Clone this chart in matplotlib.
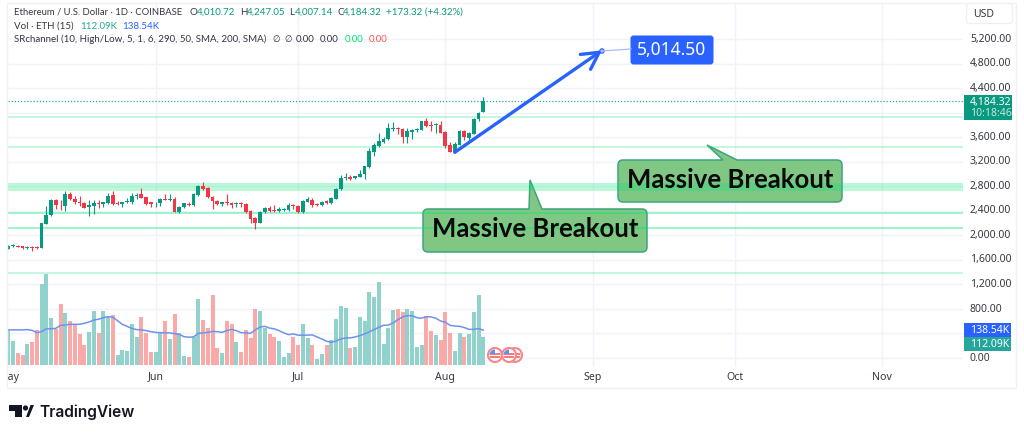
import numpy as np
import matplotlib
matplotlib.use('Agg')
from matplotlib import pyplot as plt
from matplotlib import transforms as mtrans
from matplotlib.path import Path
from matplotlib.patches import FancyBboxPatch, PathPatch, Rectangle, Circle, Polygon

W, H = 1024, 436
plt.rcParams['font.family'] = ['Noto Sans', 'DejaVu Sans']

# daily candles, May 1 to Aug 9
opens = [1782,1826,1831,1820,1793,1804,1809,1793,2184,2326,2570,2499,2483,2673,2597,2543,2521,2456,2483,2521,
         2505,2532,2657,2532,2510,2543,2543,2641,2668,2624,2537,2521,2521,2597,2581,2597,2380,2461,2516,2494,
         2662,2804,2771,2630,2565,2505,2537,2527,2505,2521,2516,2402,2288,2206,2385,2450,2412,2401,2418,2418,
         2494,2477,2385,2548,2581,2510,2494,2553,2521,2597,2749,2928,2955,2928,2955,2993,3113,3357,3461,3520,
         3564,3732,3749,3732,3602,3689,3710,3721,3863,3792,3792,3803,3683,3472,3352,3477,3705,3586,3656,3890,
         4010.72]
highs = [1842,1864,1842,1831,1820,1820,1831,2206,2478,2592,2592,2576,2722,2706,2641,2635,2537,2576,2576,2576,
         2548,2695,2722,2559,2548,2603,2684,2684,2777,2630,2548,2548,2614,2668,2679,2619,2478,2532,2548,2695,
         2820,2864,2782,2646,2576,2548,2668,2548,2548,2548,2527,2413,2304,2390,2466,2472,2494,2456,2439,2521,
         2516,2488,2575,2619,2602,2521,2559,2570,2619,2776,2983,3021,2977,2966,3064,3129,3428,3499,3673,3597,
         3825,3846,3770,3754,3743,3727,3749,3868,3917,3868,3825,3863,3694,3520,3515,3716,3716,3678,3912,4009,
         4247.05]
lows = [1771,1809,1804,1782,1777,1750,1771,1788,2179,2315,2434,2413,2402,2576,2505,2472,2440,2309,2342,2440,
        2456,2510,2499,2494,2456,2521,2510,2592,2603,2494,2461,2461,2472,2570,2565,2375,2369,2451,2483,2483,
        2646,2744,2614,2429,2489,2478,2494,2451,2461,2467,2369,2206,2097,2195,2369,2385,2380,2374,2401,2401,
        2423,2369,2369,2537,2467,2483,2483,2510,2510,2586,2738,2901,2901,2923,2945,2923,3102,3298,3444,3510,
        3553,3705,3651,3510,3499,3569,3689,3716,3770,3700,3672,3662,3423,3352,3336,3466,3553,3553,3645,3868,
        4007.14]
closes = [1820,1837,1815,1788,1809,1793,1799,2195,2331,2570,2494,2489,2673,2592,2537,2527,2451,2489,2521,2510,
          2543,2646,2510,2516,2543,2559,2646,2657,2614,2505,2505,2532,2597,2581,2597,2385,2461,2521,2494,2679,
          2809,2755,2624,2559,2505,2537,2521,2499,2521,2505,2380,2271,2206,2385,2439,2401,2401,2423,2434,2494,
          2472,2380,2559,2592,2494,2494,2548,2521,2613,2754,2934,2945,2917,2961,2999,3124,3368,3472,3537,3575,
          3743,3743,3727,3602,3694,3716,3727,3857,3787,3781,3808,3673,3461,3363,3482,3705,3607,3667,3901,3988,
          4184.32]

volumes = [138,95,47,41,86,92,138,323,361,186,142,244,205,174,163,124,79,133,215,129,
           215,192,199,41,59,57,165,113,190,128,53,53,129,174,104,201,126,38,34,112,
           262,178,149,278,68,50,174,162,91,53,138,108,221,215,149,124,113,97,32,47,
           113,80,163,109,80,25,45,80,100,183,234,227,67,72,190,176,288,269,329,84,
           146,219,223,209,223,215,74,80,196,136,120,101,212,126,57,126,113,124,209,278,
           112.09]
vol_colors = list('ggrrgrrggg' 'rrgrrrrggr' 'ggrgggggrr' 'rggrgrggrg' 'grrrrgrrgr'
                  'rrrggrrggg' 'rrggrggrgg' 'ggrggggggg' 'ggrrggggrr' 'grrrggrgggg')
vol_ma = [140,140,140,140,141,138,129,133,144,144,146,158,159,162,162,162,166,171,179,182,
          188,192,190,176,162,154,146,141,140,137,133,130,129,128,128,125,122,113,111,112,
          126,128,130,134,133,130,137,142,137,129,128,126,140,151,154,147,144,137,128,121,
          124,119,119,119,120,112,104,95,91,96,104,108,108,112,117,124,132,141,150,158,
          159,167,180,191,196,196,188,186,192,191,186,175,170,158,155,154,149,142,142,145,
          138.54]

sr_low = [3915, 3423, 2727, 2347, 2103, 1364]
sr_high = [3949, 3455, 2847, 2379, 2135, 1396]
sr_alpha = [0.24, 0.24, 0.27, 0.38, 0.38, 0.24]

price_ticks = [0, 400, 800, 1200, 1600, 2000, 2400, 2800, 3200, 3600, 4000, 4400, 4800, 5200]
price_labels = ['0.00', '800.00', '1,200.00', '1,600.00', '2,000.00', '2,400.00', '2,800.00',
                '3,200.00', '3,600.00', '4,400.00', '4,800.00', '5,200.00']
month_pos = [0, 31, 61, 92, 123, 153, 184]
month_names = ['May', 'Jun', 'Jul', 'Aug', 'Sep', 'Oct', 'Nov']

last_price = closes[-1]
target_price = 5014.50
arrow_start_price = 3353
arrow_start_day, arrow_end_day = 94, 125

GREEN, RED, BLUE = '#089981', '#f23645', '#2962ff'
TEXT = '#333842'
LEGEND_FONT = ['Lato', 'DejaVu Sans']

# everything that isn't data is laid out in image pixels
px = mtrans.Affine2D().scale(1, -1).translate(0, H)


def box(left, top, right, bottom):
    return [left / W, 1 - bottom / H, (right - left) / W, (bottom - top) / H]


fig = plt.figure(figsize=(W / 100, H / 100), dpi=100, facecolor='white')

# pane frame
fig.add_artist(Rectangle((7, 3), 1009, 385, transform=px, fc='none', ec='#f0f1f4', lw=1))

ax = fig.add_axes(box(8, 4, 963, 367))
px_per_unit = 0.06135
ax.set_ylim((358 - 367) / px_per_unit, (358 - 4) / px_per_unit)
px_per_day = 4.75
ax.set_xlim(-0.3 / px_per_day, 955 / px_per_day - 0.06)
for s in ax.spines.values():
    s.set_visible(False)
ax.set_yticks(price_ticks)
ax.set_xticks(month_pos[1:])
ax.tick_params(length=0, labelleft=False, labelbottom=False)
ax.grid(True, color='#f0f3fa', lw=1)
ax.set_axisbelow(True)

# support/resistance zones
for low, high, a in zip(sr_low, sr_high, sr_alpha):
    ax.axhspan(low, high, color='#00e676', alpha=a, lw=0, zorder=1.5)
ax.axhline(last_price, color='#2fae9c', lw=0.9, ls=(0, (1, 1.5)), zorder=1.6)

# candles
days = np.arange(len(closes))
for d, o, h, l, c in zip(days, opens, highs, lows, closes):
    col = GREEN if c >= o else RED
    ax.vlines(d, l, h, color=col, lw=0.8, zorder=3)
    ax.bar(d, abs(c - o), bottom=min(o, c), width=0.78, color=col, lw=0, zorder=3)

# arrow to the target
ax.annotate('', xy=(arrow_end_day, target_price), xytext=(arrow_start_day, arrow_start_price),
            arrowprops=dict(arrowstyle='->,head_length=12,head_width=6.5', color=BLUE, lw=2.4,
                            mutation_scale=1, shrinkA=0, shrinkB=0, capstyle='round'), zorder=5)

# volume overlay
ax_vol = fig.add_axes(box(8, 4, 963, 367), sharex=ax)
ax_vol.patch.set_visible(False)
ax_vol.axis('off')
vol_px = 3.95
ax_vol.set_ylim(-1.7 * vol_px, (365.3 - 4) * vol_px)
bar_cols = ['#92d2cc' if v == 'g' else '#f9a9a8' for v in vol_colors]
ax_vol.bar(days, volumes, width=0.84, color=bar_cols, lw=0)
ax_vol.plot(days, vol_ma, color='#6f92ef', lw=1.1)


def add_callout(left, top, right, bottom, tail):
    # rounded box with the tail cut into its top edge
    r = 5
    t1, tip, t2 = tail
    v = [(left + r, top), t1, tip, t2, (right - r, top), (right, top), (right, top + r),
         (right, bottom - r), (right, bottom), (right - r, bottom), (left + r, bottom),
         (left, bottom), (left, bottom - r), (left, top + r), (left, top), (left + r, top)]
    c = [Path.MOVETO, Path.LINETO, Path.LINETO, Path.LINETO, Path.LINETO, Path.CURVE3, Path.CURVE3,
         Path.LINETO, Path.CURVE3, Path.CURVE3, Path.LINETO, Path.CURVE3, Path.CURVE3, Path.LINETO,
         Path.CURVE3, Path.CURVE3]
    ax.add_patch(PathPatch(Path(v, c), transform=px, fc='#81c784', ec='#3aa57f', lw=1.1, zorder=1.2, clip_on=False))
    ax.text((left + right) / 2, (top + bottom) / 2 - 1.5, 'Massive Breakout', transform=px, ha='center', va='center',
            fontsize=18.5, color='#0a0a0a', family=LEGEND_FONT, fontweight='bold', zorder=6)


add_callout(618, 160, 842, 202, [(723, 160), (707, 145), (737, 160)])
add_callout(423, 209, 647, 252, [(529, 209), (530, 180), (542, 209)])

# target label and its thin connector
fig.add_artist(plt.Line2D([602, 631], [51, 49], transform=px, color='#a9bdf7', lw=0.9))
fig.add_artist(Circle((602, 51), 2.2, transform=px, fc='#a9bdf7', ec=BLUE, lw=0.8))
fig.add_artist(FancyBboxPatch((633, 38), 78, 24, boxstyle='round,pad=2.5,rounding_size=3', transform=px,
                              fc=BLUE, ec='none'))
fig.text(671.5, 49.5, '5,014.50', transform=px, ha='center', va='center', color='white', fontsize=12.5)


def put(x, y, s, color=TEXT, size=7.5, **kw):
    return fig.text(x, y, s, transform=px, color=color, fontsize=size, va='center', **kw)


def leg(x, y, s, color=TEXT, size=7.0):
    return put(x, y, s, color, size=size, family=LEGEND_FONT)


# legend lines
leg(14, 12, 'Ethereum / U.S. Dollar · 1D · COINBASE', size=6.85)
for x, s in zip([190, 240, 289, 337], 'OHLC'):
    leg(x, 12, s)
for x, s in zip([197, 247, 295, 343], ['4,010.72', '4,247.05', '4,007.14', '4,184.32']):
    leg(x, 12, s, GREEN)
leg(386, 12, '+173.32 (+4.32%)', GREEN)
leg(14, 26, 'Vol · ETH (15)')
leg(80, 26, '112.09K', '#22ab94')
leg(122, 26, '138.54K', BLUE)
leg(14, 39, 'SRchannel (10, High/Low, 5, 1, 6, 290, 50, SMA, 200, SMA)')
leg(272, 39, '∅', size=6.2)
leg(284, 39, '∅', size=6.2)
leg(296, 39, '0.00')
leg(320, 39, '0.00')
leg(345, 39, '0.00', '#00e676')
leg(369, 39, '0.00', '#ff5252')

# price scale
scale_y = [358, 309, 284, 259, 235, 210, 186, 161.5, 137, 88, 63.5, 39]
for y, s in zip(scale_y, price_labels):
    put(970, y, s)
fig.add_artist(FancyBboxPatch((968, 5), 43, 17, boxstyle='round,pad=1.5,rounding_size=3', transform=px,
                              fc='white', ec='#eef0f3', lw=1))
put(973, 14, 'USD')

fig.add_artist(Rectangle((964, 95), 48, 25, transform=px, fc=GREEN, ec='none'))
put(970, 102, '4,184.32', 'white', fontweight='bold')
put(970, 113.5, '10:18:46', '#c4e6df')
fig.add_artist(Rectangle((964, 323), 47, 14, transform=px, fc=BLUE, ec='none'))
put(970, 330, '138.54K', 'white')
fig.add_artist(Rectangle((964, 337), 47, 14, transform=px, fc='#26a69a', ec='none'))
put(970, 344, '112.09K', 'white')

# time scale, the first label is cut by the pane edge
clip = mtrans.Bbox.from_extents(8, 0, 963, H)
for d, name in zip(month_pos, month_names):
    t = fig.text(8.3 + d * px_per_day, 377, name, transform=px, ha='center', va='center', color=TEXT, fontsize=7.6)
    t.set_clip_box(clip)
    t.set_clip_on(True)

# economic event flags
for cx in [515, 509, 495]:
    ring = Circle((cx, 355), 7.0, transform=px, fc='white', ec='#f8868a', lw=1.5)
    fig.add_artist(ring)
    for art in [Rectangle((cx - 7, 353), 14, 1.6, transform=px, fc='#f9797d', ec='none'),
                Rectangle((cx - 7, 356.4), 14, 1.6, transform=px, fc='#f9797d', ec='none'),
                Rectangle((cx - 7, 347), 7, 7, transform=px, fc='#5f8ff0', ec='none')]:
        fig.add_artist(art)
        art.set_clip_path(Circle((cx, 355), 5.5, transform=px))

# logo
logo_col = '#131722'
fig.add_artist(Polygon([(9, 405), (22, 405), (22, 417), (15, 417), (15, 411), (9, 411)], transform=px, fc=logo_col))
fig.add_artist(Circle((25.5, 408), 2.6, transform=px, fc=logo_col))
fig.add_artist(Polygon([(26, 417), (30.5, 405), (34, 405), (29, 417)], transform=px, fc=logo_col))
fig.text(39, 412.5, 'TradingView', transform=px, va='center', color=logo_col, fontsize=11.2,
         family=['Inter', 'DejaVu Sans'], fontweight='semibold')

fig.savefig('out.png', dpi=100)
